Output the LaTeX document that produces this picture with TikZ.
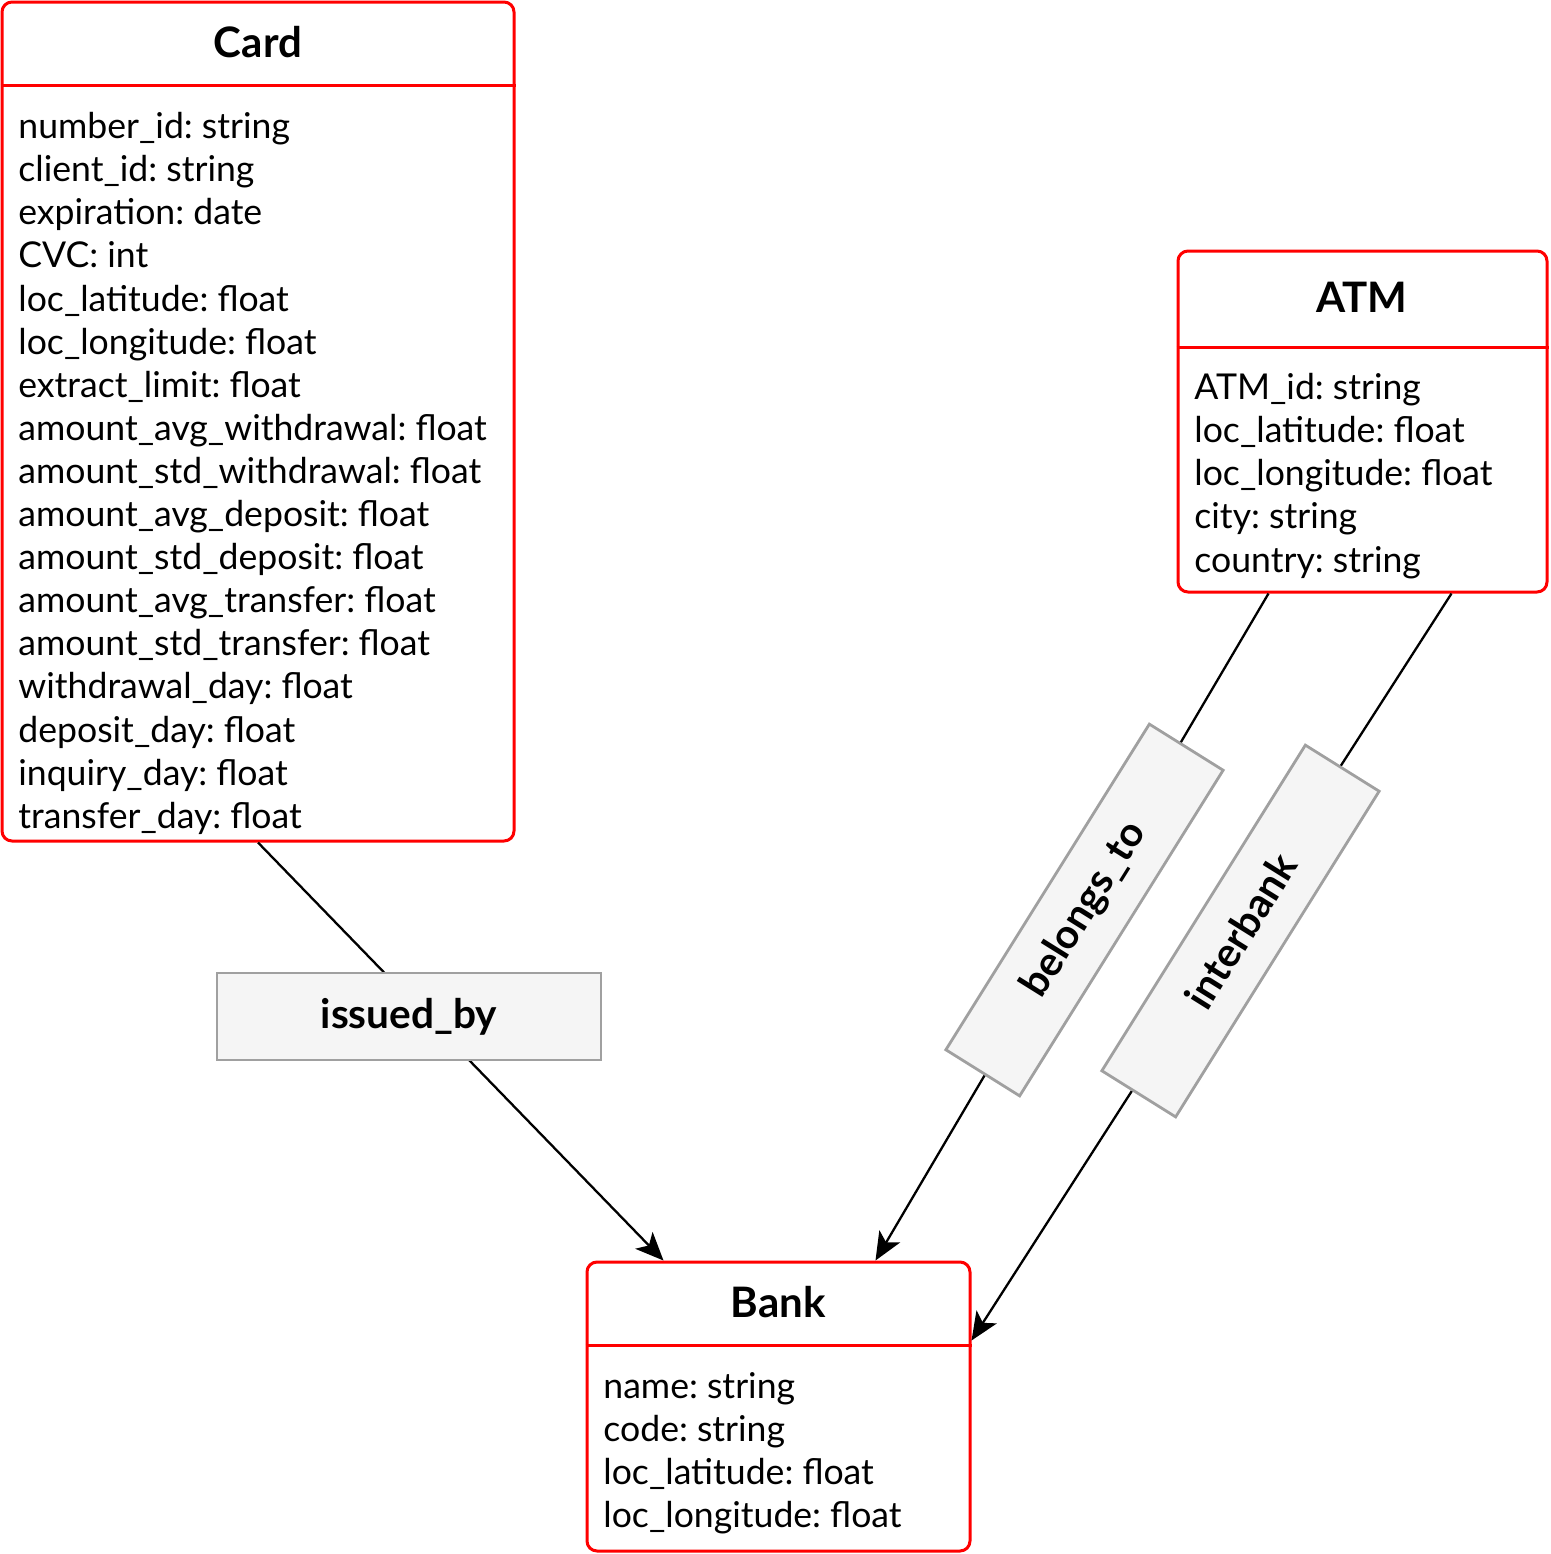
\documentclass[tikz,border=0pt]{standalone}
\usepackage{fontspec}
\setmainfont{Lato}
\usetikzlibrary{arrows.meta}
\definecolor{entred}{HTML}{FF0000}
\definecolor{relfill}{HTML}{F5F5F5}
\definecolor{reldraw}{HTML}{A0A0A0}
\frenchspacing
\begin{document}
\begin{tikzpicture}[x=0.5pt,y=-0.5pt,
    entity/.style={draw=entred,line width=1.5pt,rounded corners=5pt,fill=white,inner sep=0pt},
    sep/.style={draw=entred,line width=1.5pt},
    title/.style={font=\fontsize{21}{25}\selectfont\bfseries},
    attrs/.style={font=\fontsize{17.8}{21.55}\selectfont,align=left,anchor=north west,inner sep=0pt},
    rel/.style={draw=reldraw,fill=relfill,line width=1.4pt,minimum width=192pt,minimum height=43.5pt,
                font=\fontsize{20.3}{24}\selectfont\bfseries,inner sep=0pt},
    link/.style={line width=1.15pt,-{Stealth[length=14pt,width=12pt,inset=3.5pt]}}]

    \useasboundingbox (0,0) rectangle (1551,1554);

    % Entities
    \node[entity,minimum width=256pt,minimum height=419.5pt] (card) at (258,421.5) {};
    \node[entity,minimum width=184.5pt,minimum height=170.5pt] (atm) at (1362.5,421.5) {};
    \node[entity,minimum width=191.5pt,minimum height=144.5pt] (bank) at (778.5,1406.5) {};

    % Header lines
    \draw[sep] (card.west |- 0,85) -- (card.east |- 0,85);
    \draw[sep] (atm.west |- 0,347) -- (atm.east |- 0,347);
    \draw[sep] (bank.west |- 0,1345) -- (bank.east |- 0,1345);

    % Titles
    \node[title] (cardtitle) at (258,42) {Card};
    \node[title] (atmtitle) at (1362,297) {ATM};
    \node[title] (banktitle) at (778,1302) {Bank};

    % Attributes
    \node[attrs] (cardattrs) at (18,112) {number\_id: string\\client\_id: string\\expiration: date\\CVC: int\\
        loc\_latitude: float\\loc\_longitude: float\\extract\_limit: float\\amount\_avg\_withdrawal: float\\
        amount\_std\_withdrawal: float\\amount\_avg\_deposit: float\\amount\_std\_deposit: float\\
        amount\_avg\_transfer: float\\amount\_std\_transfer: float\\withdrawal\_day: float\\
        deposit\_day: float\\inquiry\_day: float\\transfer\_day: float};
    \node[attrs] (atmattrs) at (1194,373) {ATM\_id: string\\loc\_latitude: float\\loc\_longitude: float\\
        city: string\\country: string};
    \node[attrs] (bankattrs) at (603,1372) {name: string\\code: string\\loc\_latitude: float\\loc\_longitude: float};

    % Relations
    \draw[link] (card.south) -- ([xshift=39pt]bank.north west);
    \draw[link] ([xshift=46pt]atm.south west) -- ([xshift=145pt]bank.north west);
    \draw[link] ([xshift=137.5pt]atm.south west) -- ([yshift=-40pt]bank.north east);

    % Relation labels
    \node[rel] (issued) at (409,1016.5) {issued\_by};
    \node[rel,rotate=58] (belongs) at (1084.5,910) {belongs\_to};
    \node[rel,rotate=58] (interbank) at (1240.5,931) {interbank};
\end{tikzpicture}
\end{document}
